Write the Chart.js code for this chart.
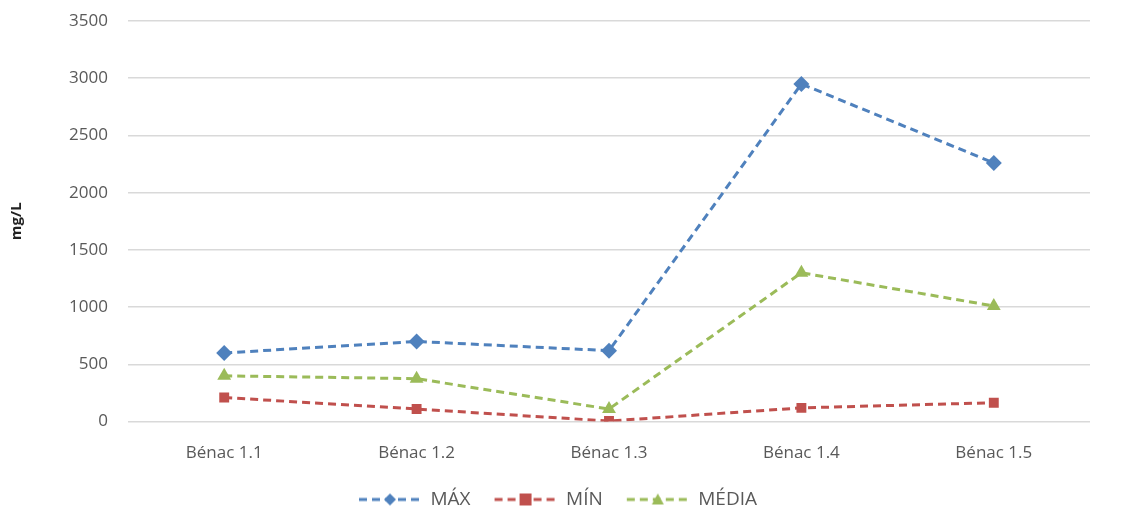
<!DOCTYPE html>
<html>
<head>
<meta charset="utf-8">
<script src="https://cdn.jsdelivr.net/npm/chart.js@4/dist/chart.umd.min.js"></script>
<style>
  html, body { margin: 0; padding: 0; background: #fff; }
  #wrap { width: 1129px; height: 527px; position: relative; }
</style>
</head>
<body>
<div id="wrap"><canvas id="chart"></canvas></div>
<script>
var categories = ["Bénac 1.1", "Bénac 1.2", "Bénac 1.3", "Bénac 1.4", "Bénac 1.5"];
var maxValues = [600, 700, 620, 2950, 2260];
var minValues = [210, 110, 5, 120, 165];
var mediaValues = [400, 375, 110, 1300, 1010];
var yTicks = [0, 500, 1000, 1500, 2000, 2500, 3000, 3500];

var FONT = "'Open Sans', Lato, sans-serif";
var TEXT = "#595959";

// small legend icon: dashed line with the series marker in the middle,
// with some empty room on the left to space the legend items
function legendIcon(color, style) {
    var c = document.createElement("canvas");
    c.width = 80; c.height = 14;
    var g = c.getContext("2d");
    g.strokeStyle = color;
    g.lineWidth = 3;
    g.setLineDash([8, 5]);
    g.beginPath();
    g.moveTo(18, 7); g.lineTo(79, 7);
    g.stroke();
    g.setLineDash([]);
    g.fillStyle = color;
    g.beginPath();
    if (style === "rectRot") {
        g.moveTo(49, 1); g.lineTo(55, 7); g.lineTo(49, 13); g.lineTo(43, 7);
    } else if (style === "rect") {
        g.rect(43, 1, 12, 12);
    } else {
        g.moveTo(49, 1); g.lineTo(55, 12); g.lineTo(43, 12);
    }
    g.closePath();
    g.fill();
    return c;
}

function series(label, data, color, style) {
    return {
        label: label,
        data: data,
        borderColor: color,
        backgroundColor: color,
        borderWidth: 3,
        borderDash: [8, 5],
        pointStyle: style,
        pointRadius: style === "rect" ? 7 : 8,
        pointHoverRadius: 8,
        pointBorderWidth: 0,
        legendIcon: legendIcon(color, style),
        tension: 0,
        fill: false
    };
}

new Chart(document.getElementById("chart"), {
    type: "line",
    data: {
        labels: categories,
        datasets: [
            series("MÁX", maxValues, "#4F81BD", "rectRot"),
            series("MÍN", minValues, "#C0504D", "rect"),
            series("MÉDIA", mediaValues, "#9BBB59", "triangle")
        ]
    },
    options: {
        responsive: true,
        maintainAspectRatio: false,
        animation: false,
        layout: { padding: { left: 8, right: 39, top: 21, bottom: 8 } },
        plugins: {
            tooltip: { enabled: false },
            legend: {
                position: "bottom",
                labels: {
                    usePointStyle: true,
                    pointStyleWidth: 80,
                    boxHeight: 14,
                    padding: 6,
                    color: TEXT,
                    font: { family: FONT, size: 19 },
                    generateLabels: function(chart) {
                        return chart.data.datasets.map(function(ds, i) {
                            return {
                                text: ds.label,
                                pointStyle: ds.legendIcon,
                                fillStyle: ds.backgroundColor,
                                strokeStyle: ds.borderColor,
                                lineWidth: 0,
                                fontColor: TEXT,
                                datasetIndex: i
                            };
                        });
                    }
                }
            }
        },
        scales: {
            x: {
                offset: true,
                grid: { display: false, drawTicks: false },
                border: { display: false },
                ticks: { color: TEXT, padding: 21, font: { family: FONT, size: 17 } }
            },
            y: {
                min: 0,
                max: 3500,
                afterBuildTicks: function(axis) {
                    axis.ticks = yTicks.map(function(v) { return { value: v }; });
                },
                afterFit: function(axis) {
                    // fixed axis width; the top label may overflow the plot area
                    axis.width = 120;
                    axis.paddingTop = 0;
                    axis.paddingBottom = 0;
                },
                grid: { color: "#D9D9D9", lineWidth: 1.5, drawTicks: false },
                border: { display: false },
                ticks: {
                    color: TEXT,
                    padding: 20,
                    font: { family: FONT, size: 17 },
                    callback: function(v) { return String(v); }
                },
                title: {
                    display: true,
                    text: "mg/L",
                    color: "#222",
                    padding: 0,
                    font: { family: FONT, size: 15, weight: "bold" }
                }
            }
        }
    }
});
</script>
</body>
</html>
